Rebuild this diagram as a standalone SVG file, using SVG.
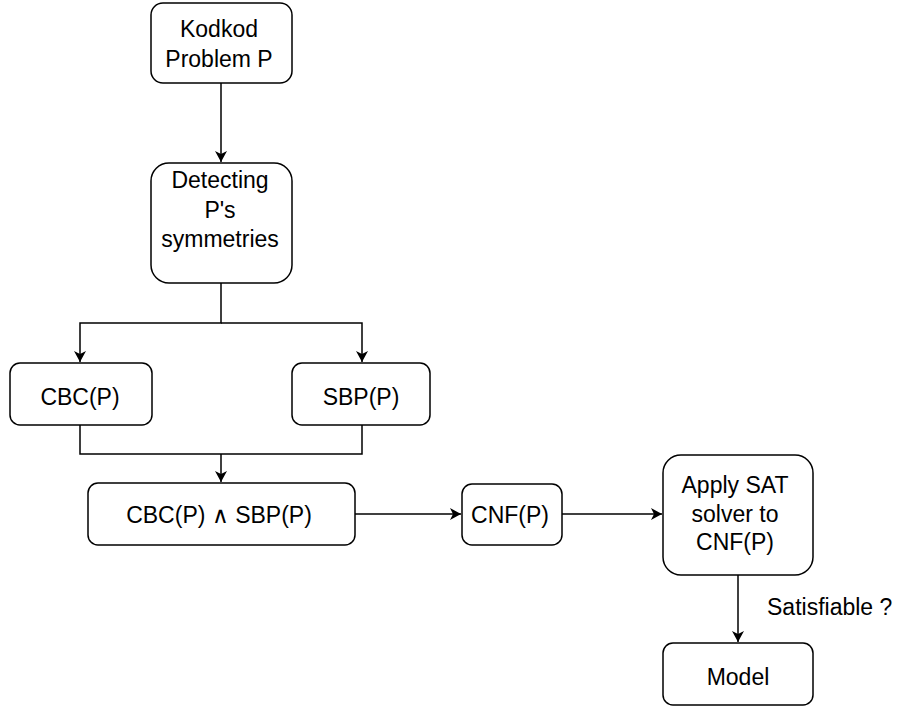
<svg xmlns="http://www.w3.org/2000/svg" width="899" height="708" viewBox="0 0 899 708">
<style>
.box{fill:#fff;stroke:#000;stroke-width:1.5}
.t{font-family:"Liberation Sans",Arial,sans-serif;font-size:23px;fill:#000;text-anchor:middle}
.c{fill:none;stroke:#000;stroke-width:1.5}
</style>
<defs>
<marker id="arr" markerUnits="userSpaceOnUse" markerWidth="12" markerHeight="12" refX="11" refY="6" orient="auto">
<path d="M0,0 L11,6 L0,12 L3,6 z" fill="#000"/>
</marker>
</defs>
<rect width="899" height="708" fill="#fff"/>
<g id="connectors">
<path class="c" d="M221,83 V162" marker-end="url(#arr)"/>
<path class="c" d="M221,283 V323 H80 V362" marker-end="url(#arr)"/>
<path class="c" d="M221,323 H362 V362" marker-end="url(#arr)"/>
<path class="c" d="M80,425 V454 H362 V425"/>
<path class="c" d="M221,454 V482" marker-end="url(#arr)"/>
<path class="c" d="M355,514 H461" marker-end="url(#arr)"/>
<path class="c" d="M562,514 H662" marker-end="url(#arr)"/>
<path class="c" d="M738,575 V642" marker-end="url(#arr)"/>
<text class="t" x="767" y="615" style="text-anchor:start">Satisfiable ?</text>
</g>
<g id="kodkod">
<rect class="box" x="151" y="3" width="141" height="80" rx="12"/>
<text class="t" x="219" y="37">Kodkod</text>
<text class="t" x="219" y="67">Problem P</text>
</g>
<g id="detecting">
<rect class="box" x="151" y="163" width="141" height="120" rx="18"/>
<text class="t" x="220" y="188">Detecting</text>
<text class="t" x="220" y="218">P's</text>
<text class="t" x="220" y="247">symmetries</text>
</g>
<g id="cbc">
<rect class="box" x="10" y="363" width="142" height="62" rx="10"/>
<text class="t" x="80" y="405">CBC(P)</text>
</g>
<g id="sbp">
<rect class="box" x="292" y="363" width="138" height="62" rx="10"/>
<text class="t" x="361" y="405">SBP(P)</text>
</g>
<g id="cbc-and-sbp">
<rect class="box" x="88" y="483" width="267" height="62" rx="10"/>
<text class="t" x="219" y="523">CBC(P) ∧ SBP(P)</text>
</g>
<g id="cnf">
<rect class="box" x="462" y="484" width="100" height="61" rx="10"/>
<text class="t" x="510" y="523">CNF(P)</text>
</g>
<g id="sat">
<rect class="box" x="663" y="455" width="150" height="120" rx="18"/>
<text class="t" x="735" y="493">Apply SAT</text>
<text class="t" x="735" y="522">solver to</text>
<text class="t" x="735" y="550">CNF(P)</text>
</g>
<g id="model">
<rect class="box" x="663" y="643" width="150" height="62" rx="10"/>
<text class="t" x="738" y="685">Model</text>
</g>
</svg>
